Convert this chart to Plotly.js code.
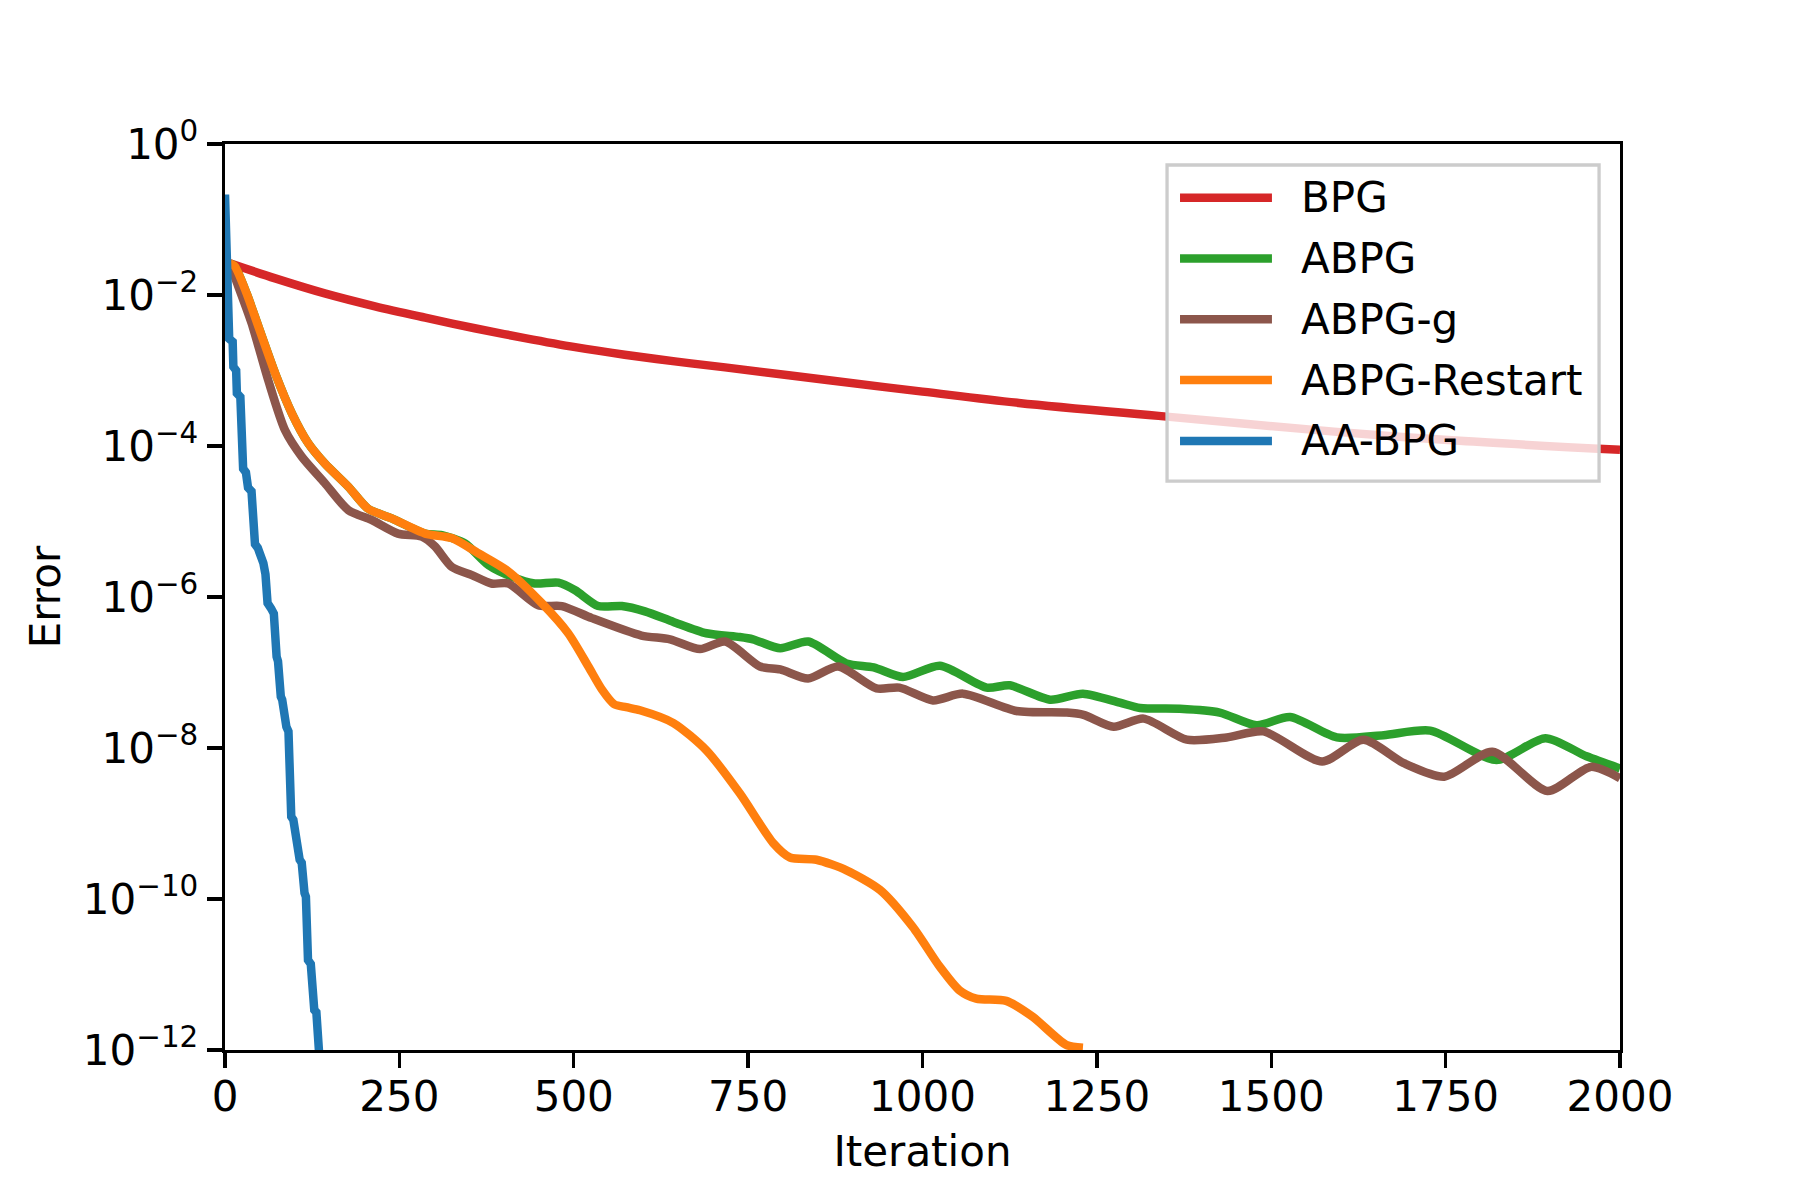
<!DOCTYPE html>
<html>
<head>
<meta charset="utf-8">
<script src="https://cdn.plot.ly/plotly-3.0.1.min.js"></script>
<style>
  body { margin: 0; background: #fff; }
  #chart { width: 1800px; height: 1200px; }
</style>
</head>
<body>
<div id="chart"></div>
<script>
// values (error vs iteration, log y)
var bpgIter = [7, 72, 143, 215, 287, 358, 430, 502, 573, 645, 717, 866, 1000, 1138, 1350, 1590, 1770, 2000];
var bpgErr = [2.63e-2, 1.66e-2, 1.05e-2, 7.08e-3, 5.01e-3, 3.63e-3, 2.69e-3, 2.04e-3, 1.62e-3, 1.32e-3,
  1.10e-3, 7.41e-4, 5.25e-4, 3.72e-4, 2.45e-4, 1.55e-4, 1.17e-4, 8.91e-5];

var abpgIter = [7, 14, 31, 48, 72, 96, 119, 143, 177, 205, 239, 287, 311, 344, 378, 411, 444, 478, 502, 535,
  569, 602, 643, 690, 738, 757, 796, 836, 891, 930, 972, 1025, 1092, 1125, 1183, 1230, 1283, 1312, 1369,
  1426, 1479, 1527, 1594, 1661, 1728, 1823, 1893, 1952, 2000];
var abpgErr = [2.63e-2, 2.40e-2, 1.05e-2, 3.80e-3, 9.12e-4, 2.69e-4, 1.10e-4, 5.89e-5, 2.88e-5, 1.48e-5,
  1.10e-5, 6.92e-6, 6.61e-6, 5.13e-6, 2.63e-6, 1.86e-6, 1.51e-6, 1.55e-6, 1.23e-6, 7.59e-7,
  7.59e-7, 6.46e-7, 4.68e-7, 3.31e-7, 2.95e-7, 2.75e-7, 2.09e-7, 2.57e-7, 1.32e-7, 1.17e-7,
  8.71e-8, 1.23e-7, 6.31e-8, 6.76e-8, 4.37e-8, 5.25e-8, 3.98e-8, 3.39e-8, 3.31e-8,
  2.95e-8, 2.00e-8, 2.57e-8, 1.38e-8, 1.48e-8, 1.70e-8, 6.92e-9, 1.35e-8, 7.76e-9, 5.37e-9];

var abpggIter = [7, 14, 38, 62, 86, 110, 143, 177, 210, 248, 282, 301, 325, 354, 382, 406, 449, 483, 526,
  597, 638, 681, 717, 767, 796, 836, 879, 934, 967, 1015, 1058, 1135, 1207, 1231, 1274, 1317, 1379,
  1436, 1489, 1573, 1632, 1690, 1748, 1817, 1896, 1958, 2000];
var abpggErr = [2.63e-2, 1.74e-2, 4.27e-3, 7.41e-4, 1.62e-4, 7.24e-5, 3.24e-5, 1.41e-5, 1.05e-5, 6.92e-6,
  6.31e-6, 4.68e-6, 2.51e-6, 1.95e-6, 1.51e-6, 1.51e-6, 7.76e-7, 7.59e-7, 5.25e-7,
  3.09e-7, 2.75e-7, 2.04e-7, 2.57e-7, 1.20e-7, 1.10e-7, 8.32e-8, 1.20e-7, 6.17e-8, 6.31e-8,
  4.27e-8, 5.25e-8, 3.09e-8, 2.95e-8, 2.75e-8, 1.91e-8, 2.45e-8, 1.29e-8,
  1.38e-8, 1.66e-8, 6.61e-9, 1.29e-8, 6.31e-9, 4.17e-9, 8.91e-9, 2.69e-9, 5.62e-9, 3.98e-9];

var restartIter = [7, 14, 31, 48, 72, 96, 119, 143, 177, 205, 239, 287, 325, 363, 406, 454, 492, 521, 540,
  558, 575, 595, 643, 690, 738, 786, 810, 848, 891, 939, 986, 1025, 1053, 1077, 1120, 1158, 1206, 1230];
var restartErr = [2.63e-2, 2.40e-2, 1.05e-2, 3.80e-3, 9.12e-4, 2.69e-4, 1.10e-4, 5.89e-5, 2.88e-5, 1.48e-5,
  1.10e-5, 6.92e-6, 6.03e-6, 3.80e-6, 2.19e-6, 8.32e-7, 3.31e-7, 1.20e-7, 6.03e-8,
  3.80e-8, 3.47e-8, 3.16e-8, 2.14e-8, 9.33e-9, 2.51e-9, 5.50e-10, 3.55e-10, 3.31e-10, 2.40e-10,
  1.32e-10, 4.27e-11, 1.26e-11, 6.17e-12, 4.79e-12, 4.47e-12, 2.75e-12, 1.17e-12, 1.07e-12];

var aaIter = [0, 2, 4, 6, 11, 12, 16, 17, 22, 24, 26, 30, 33, 38, 40, 43, 47, 52, 55, 58, 61, 66, 70, 74,
  76, 80, 82, 88, 91, 95, 98, 107, 110, 114, 116, 119, 123, 128, 131, 135];
var aaErr = [0.214, 1.58e-2, 3.55e-3, 2.63e-3, 2.40e-3, 1.12e-3, 1.0e-3, 5.01e-4, 4.47e-4, 1.26e-4,
  5.01e-5, 4.47e-5, 2.82e-5, 2.51e-5, 1.0e-5, 5.01e-6, 4.47e-6, 3.55e-6, 2.82e-6, 2.0e-6,
  8.32e-7, 7.08e-7, 6.03e-7, 1.62e-7, 1.41e-7, 4.79e-8, 4.37e-8, 1.91e-8, 1.66e-8, 1.23e-9,
  1.12e-9, 3.31e-10, 3.02e-10, 1.20e-10, 1.07e-10, 1.55e-11, 1.38e-11, 3.39e-12, 3.16e-12, 8.91e-13];

var names = ['BPG', 'ABPG', 'ABPG-g', 'ABPG-Restart', 'AA-BPG'];
var colors = ['#d62728', '#2ca02c', '#8c564b', '#ff7f0e', '#1f77b4'];

var xTicks = [0, 250, 500, 750, 1000, 1250, 1500, 1750, 2000];
var yTickVals = [1, 1e-2, 1e-4, 1e-6, 1e-8, 1e-10, 1e-12];
var yTickText = ['10<sup>0</sup>', '10<sup>\u22122</sup>', '10<sup>\u22124</sup>', '10<sup>\u22126</sup>',
  '10<sup>\u22128</sup>', '10<sup>\u221210</sup>', '10<sup>\u221212</sup>'];

var xs = [bpgIter, abpgIter, abpggIter, restartIter, aaIter];
var ys = [bpgErr, abpgErr, abpggErr, restartErr, aaErr];

var data = [];
for (var i = 0; i < names.length; i++) {
  data.push({
    x: xs[i],
    y: ys[i],
    name: names[i],
    type: 'scatter',
    mode: 'lines',
    line: {
      color: colors[i],
      width: 8.5,
      shape: i == 4 ? 'linear' : 'spline',
      smoothing: i == 0 ? 1.0 : 0.7
    }
  });
}

var font = 'DejaVu Sans, Verdana, sans-serif';

// matplotlib style legend box drawn in paper coords
var shapes = [{
  type: 'rect', xref: 'paper', yref: 'paper',
  x0: 0.6753, x1: 0.9850, y0: 0.6280, y1: 0.9768,
  fillcolor: 'rgba(255,255,255,0.8)',
  line: {color: '#cccccc', width: 3.3},
  layer: 'above'
}];
var annotations = [];
for (var j = 0; j < names.length; j++) {
  var yy = 0.9407 - j * 0.0671;
  shapes.push({
    type: 'line', xref: 'paper', yref: 'paper',
    x0: 0.6846, x1: 0.7505, y0: yy, y1: yy,
    line: {color: colors[j], width: 8.5},
    layer: 'above'
  });
  annotations.push({
    xref: 'paper', yref: 'paper',
    x: 0.7700, y: yy,
    xanchor: 'left', yanchor: 'middle',
    text: names[j],
    showarrow: false,
    font: {family: font, size: 42, color: '#000'}
  });
}

var layout = {
  width: 1800,
  height: 1200,
  margin: {l: 225, r: 180, t: 144, b: 150},
  paper_bgcolor: '#fff',
  plot_bgcolor: '#fff',
  showlegend: false,
  font: {family: font, size: 42, color: '#000'},
  xaxis: {
    range: [0, 2000],
    tickvals: xTicks,
    ticktext: xTicks.map(String),
    showgrid: false,
    zeroline: false,
    showline: true,
    mirror: true,
    linecolor: '#000',
    linewidth: 3.3,
    ticks: 'outside',
    ticklen: 15,
    tickwidth: 3.3,
    tickcolor: '#000',
    ticklabelstandoff: -8,
    tickfont: {family: font, size: 42},
    title: {text: 'Iteration', font: {family: font, size: 42}, standoff: 18}
  },
  yaxis: {
    type: 'log',
    range: [-12, 0],
    tickvals: yTickVals,
    ticktext: yTickText,
    showgrid: false,
    zeroline: false,
    showline: true,
    mirror: true,
    linecolor: '#000',
    linewidth: 3.3,
    ticks: 'outside',
    ticklen: 15,
    tickwidth: 3.3,
    tickcolor: '#000',
    tickfont: {family: font, size: 42},
    title: {text: 'Error', font: {family: font, size: 42}, standoff: 10}
  },
  shapes: shapes,
  annotations: annotations
};

var config = {displayModeBar: false, staticPlot: true};

Plotly.newPlot('chart', data, layout, config);
</script>
</body>
</html>
